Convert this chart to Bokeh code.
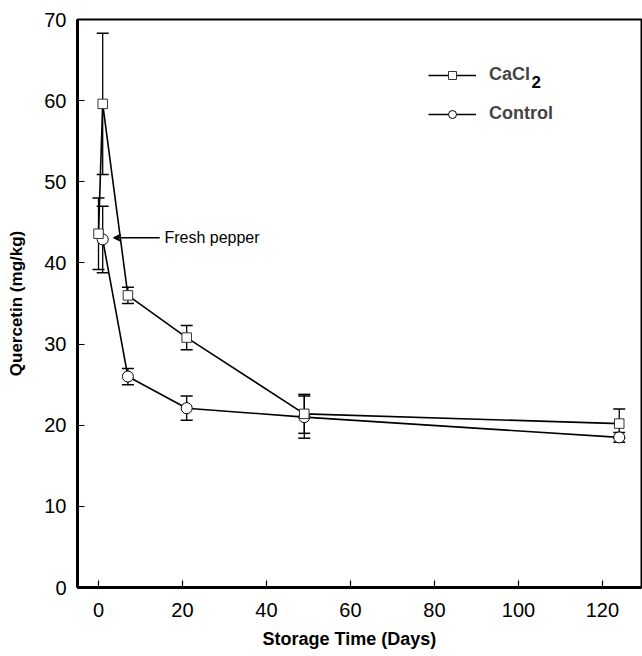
from bokeh.plotting import figure
from bokeh.models import (ColumnDataSource, Whisker, TeeHead, Arrow, VeeHead, Label,
                          Legend, LegendItem, FixedTicker, Range1d, Title)
from bokeh.embed import file_html
from bokeh.resources import INLINE

# ---- data ----
cacl2_days = [0, 1, 7, 21, 49, 124]
cacl2_vals = [43.6, 59.6, 36.0, 30.8, 21.4, 20.2]
cacl2_err = [4.4, 8.7, 1.0, 1.5, 2.4, 1.8]

control_days = [1, 7, 21, 49, 124]
control_vals = [42.9, 26.0, 22.1, 21.0, 18.5]
control_err = [4.1, 1.0, 1.5, 2.6, 0.6]

x_ticks = [0, 20, 40, 60, 80, 100, 120]
y_ticks = [0, 10, 20, 30, 40, 50, 60, 70]

FONT = "Liberation Sans"

p = figure(width=642, height=656, output_backend="svg", toolbar_location=None,
           x_range=Range1d(-5.0, 129.3), y_range=Range1d(0, 70),
           min_border_left=77, min_border_top=19, min_border_right=1, min_border_bottom=69)
p.grid.visible = False
p.background_fill_color = "white"
p.border_fill_color = "white"
p.outline_line_color = "black"
p.outline_line_width = 2

for ax in (p.xaxis[0], p.yaxis[0]):
    ax.axis_line_width = 3
    ax.axis_line_color = "black"
    ax.major_tick_in = 7
    ax.major_tick_out = 0
    ax.major_tick_line_width = 1.2
    ax.minor_tick_line_color = None
    ax.major_label_text_font = FONT
    ax.major_label_text_font_size = "20px"
    ax.major_label_text_color = "black"
    ax.axis_label_text_font = FONT
    ax.axis_label_text_font_style = "bold"
    ax.axis_label_text_color = "black"

p.xaxis.ticker = FixedTicker(ticks=x_ticks)
p.yaxis.ticker = FixedTicker(ticks=y_ticks)
p.yaxis.axis_label = "Quercetin (mg/kg)"
p.yaxis.axis_label_text_font_size = "17px"
p.xaxis.major_label_standoff = 15
p.yaxis.major_label_standoff = 11
p.yaxis.axis_label_standoff = 15

# x-axis title placed below the axis
p.add_layout(Title(text="Storage Time (Days)", align="left", offset=185, standoff=15,
                   text_font=FONT, text_font_size="18px", text_font_style="bold",
                   text_color="black"), "below")

src_c = ColumnDataSource(dict(x=cacl2_days, y=cacl2_vals,
                              lo=[v - e for v, e in zip(cacl2_vals, cacl2_err)],
                              hi=[v + e for v, e in zip(cacl2_vals, cacl2_err)]))
src_k = ColumnDataSource(dict(x=control_days, y=control_vals,
                              lo=[v - e for v, e in zip(control_vals, control_err)],
                              hi=[v + e for v, e in zip(control_vals, control_err)]))

for src in (src_c, src_k):
    w = Whisker(base="x", lower="lo", upper="hi", source=src, line_color="black", line_width=1.3,
                upper_head=TeeHead(size=12, line_width=1.5, line_color="black"),
                lower_head=TeeHead(size=12, line_width=1.5, line_color="black"),
                level="underlay")
    p.add_layout(w)

l_c = p.line("x", "y", source=src_c, line_color="black", line_width=1.6)
l_k = p.line("x", "y", source=src_k, line_color="black", line_width=1.6)
m_k = p.scatter("x", "y", source=src_k, marker="circle", size=11, fill_color="white",
                line_color="black", line_width=1)
m_c = p.scatter("x", "y", source=src_c, marker="square", size=9.5, fill_color="white",
                line_color="#333333", line_width=1)

legend = Legend(items=[LegendItem(label="CaCl", renderers=[l_c, m_c]),
                       LegendItem(label="Control", renderers=[l_k, m_k])],
                location=(351, 463), glyph_width=48, glyph_height=20, label_standoff=13,
                spacing=18, padding=0, margin=0, border_line_color=None,
                background_fill_alpha=0, label_text_font=FONT, label_text_font_size="18px",
                label_text_font_style="bold", label_height=20)
p.add_layout(legend, "center")

# subscript for CaCl2 in the legend
p.add_layout(Label(x=103.1, y=62.3, text="2", text_font=FONT, text_font_size="17px",
                   text_font_style="bold", text_baseline="middle", text_align="left",
                   text_color="black"))

# fresh pepper annotation
p.add_layout(Arrow(end=VeeHead(size=7, line_color="black", line_width=1.2), x_start=14.6, y_start=43.1,
                   x_end=3.6, y_end=43.1, line_color="black", line_width=1.3))
p.add_layout(Label(x=15.7, y=43.1, text="Fresh pepper", text_font=FONT, text_font_size="16px",
                   text_baseline="middle", text_color="black"))

open("out.html", "w").write(file_html(p, INLINE))
